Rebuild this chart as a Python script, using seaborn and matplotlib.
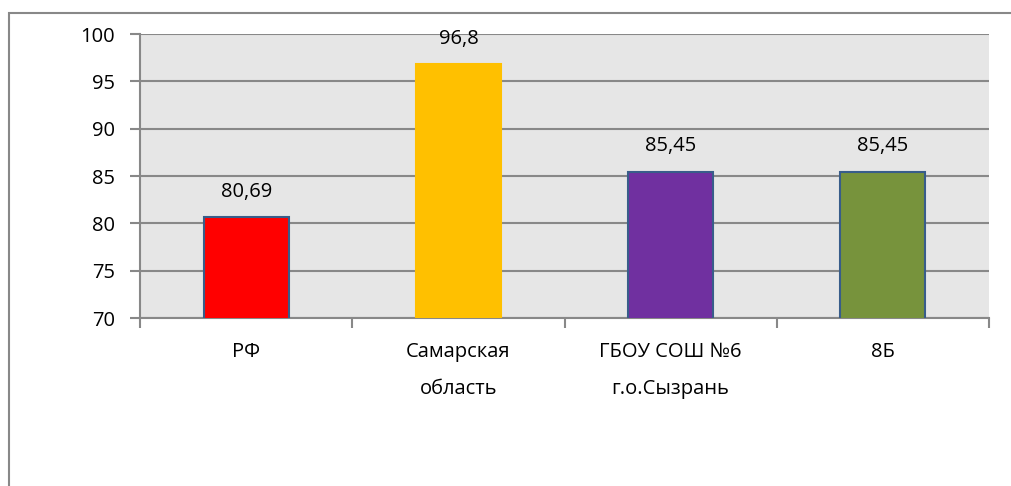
import pandas as pd
import numpy as np
import matplotlib
matplotlib.use("Agg")
import matplotlib.pyplot as plt
import seaborn as sns
from matplotlib.patches import Rectangle

# data
categories = ["РФ", "Самарская\nобласть", "ГБОУ СОШ №6\nг.о.Сызрань", "8Б"]
values = [80.69, 96.8, 85.45, 85.45]
labels = ["80,69", "96,8", "85,45", "85,45"]
colors = ["#FF0000", "#FFC000", "#7030A0", "#77933C"]
edges = ["#385D8A", "#FFC000", "#385D8A", "#385D8A"]

sns.set_theme(style="white")
plt.rcParams["font.family"] = ["Open Sans", "DejaVu Sans"]

df = pd.DataFrame({"cat": categories, "val": values})

fig = plt.figure(figsize=(10.12, 4.86), dpi=100)
ax = fig.add_axes([140 / 1012, 1 - 318 / 486, 849 / 1012, 284 / 486])

# outer chart frame (partly clipped like the reference)
fig.patches.append(Rectangle((9 / 1012, -0.1), 1.2, 1.1 - 13 / 486, transform=fig.transFigure,
                             fill=False, edgecolor="#888888", linewidth=1.5))

ax.set_facecolor("#E6E6E6")
sns.barplot(data=df, x="cat", y="val", hue="cat", palette=colors, legend=False,
            width=0.4, saturation=1, ax=ax, zorder=3)
for bar, ec in zip(ax.patches, edges):
    bar.set_edgecolor(ec)
    bar.set_linewidth(1.5)
    bar.set_zorder(3)

ax.set_ylim(70, 100)
ax.set_xlim(-0.5, 3.5)
ax.set_yticks(range(70, 101, 5))
ax.yaxis.grid(True, color="#888888", linewidth=1.5, zorder=1)
ax.set_axisbelow(True)

fs = 14.5
for i, (v, t) in enumerate(zip(values, labels)):
    ax.annotate(t, (i, v), xytext=(0, 11), textcoords="offset points",
                ha="center", va="bottom", fontsize=fs, color="#000000")

for s in ["top", "right"]:
    ax.spines[s].set_visible(False)
for s in ["left", "bottom"]:
    ax.spines[s].set_color("#888888")
    ax.spines[s].set_linewidth(1.5)

ax.tick_params(axis="y", which="major", length=7, width=1.5, color="#888888",
               labelsize=fs, pad=11, left=True, labelcolor="#000000")
ax.set_xticks([0, 1, 2, 3])
ax.set_xticklabels(categories, fontsize=fs, linespacing=2.15, color="#000000")
ax.tick_params(axis="x", which="major", length=0, pad=17)
ax.set_xticks([-0.5, 0.5, 1.5, 2.5, 3.5], minor=True)
ax.tick_params(axis="x", which="minor", length=7, width=1.5, color="#888888", bottom=True)
ax.set_xlabel("")
ax.set_ylabel("")

fig.savefig("out.png", dpi=100)
